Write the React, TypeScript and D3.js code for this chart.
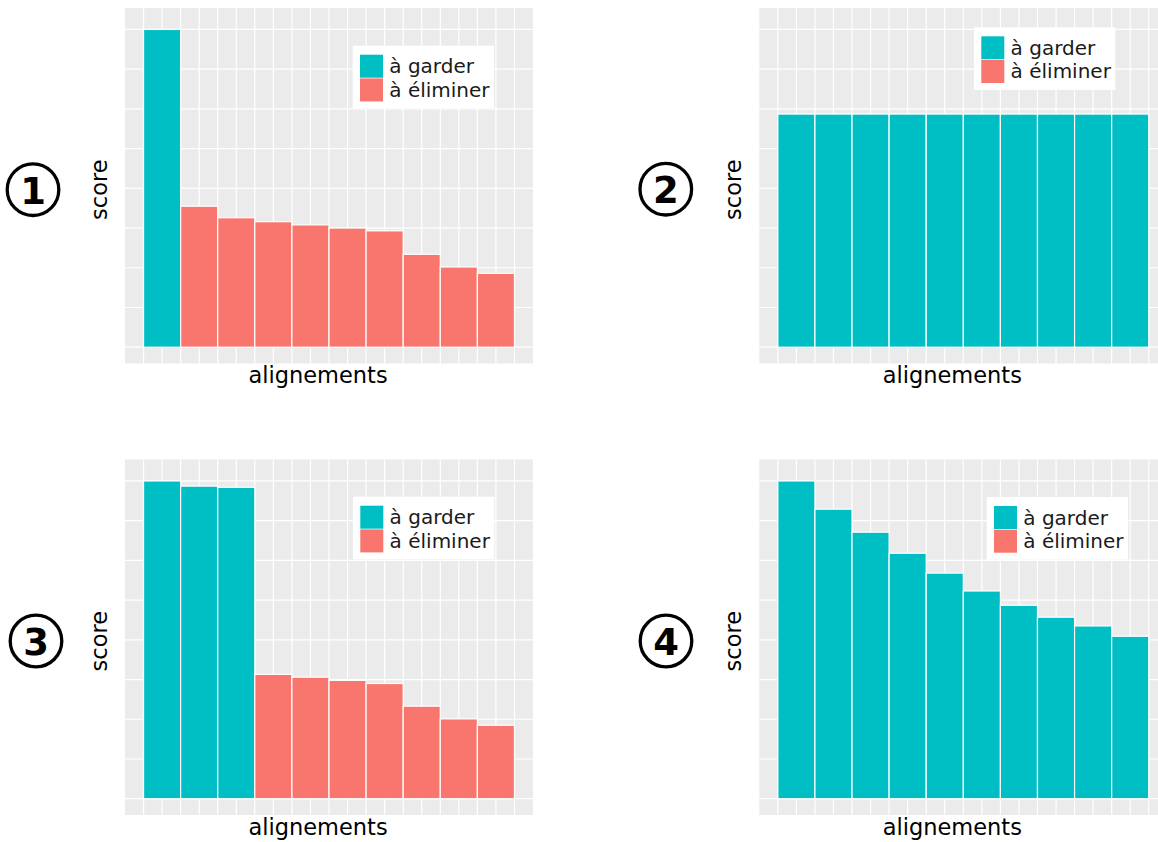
import * as d3 from "d3";
import { useEffect, useRef } from "react";

// alignment index on the x axis
const alignements = [1, 2, 3, 4, 5, 6, 7, 8, 9, 10];

// scores
const scores1 = [8.0, 3.55, 3.26, 3.16, 3.08, 3.0, 2.93, 2.34, 2.02, 1.86];
const scores2 = [5.87, 5.87, 5.87, 5.87, 5.87, 5.87, 5.87, 5.87, 5.87, 5.87];
const scores3 = [8.0, 7.87, 7.84, 3.13, 3.06, 2.98, 2.9, 2.33, 2.01, 1.85];
const scores4 = [8.0, 7.29, 6.71, 6.18, 5.68, 5.23, 4.87, 4.57, 4.35, 4.09];

// how many of the top alignments are kept in each panel
const kept = [1, 10, 3, 10];

const panelNumbers = ["1", "2", "3", "4"];
const legendLabels = ["à garder", "à éliminer"];
const colors = ["#00BFC4", "#F8766D"];
const yGrid = [0, 1, 2, 3, 4, 5, 6, 7, 8];
const xGrid = [0.5, 1, 1.5, 2, 2.5, 3, 3.5, 4, 4.5, 5, 5.5, 6, 6.5, 7, 7.5, 8, 8.5, 9, 9.5, 10, 10.5];

export default function App() {
  const ref = useRef<SVGSVGElement>(null);

  useEffect(() => {
    if (!ref.current) return;
    const svg = d3.select(ref.current);
    svg.selectAll("*").remove();

    const font = "DejaVu Sans, sans-serif";
    const panelW = 408;
    const panelH = 355.5;
    const allScores = [scores1, scores2, scores3, scores4];

    const layout = [
      { px: 125, py: 8, lx: 227.7, ly: 37.7, cx: 33, cy: 189.7 },
      { px: 759.3, py: 8, lx: 214.7, ly: 19.3, cx: 665.8, cy: 189.2 },
      { px: 125, py: 459.5, lx: 228, ly: 37.2, cx: 36, cy: 641 },
      { px: 759.3, py: 459.5, lx: 227.4, ly: 37.5, cx: 666, cy: 641 },
    ];

    layout.forEach((L, p) => {
      const x = d3.scaleLinear().domain([0, 11]).range([L.px, L.px + panelW]);
      const y = d3.scaleLinear().domain([-0.41, 8.54]).range([L.py + panelH, L.py]);
      const g = svg.append("g");

      // panel background + grid
      g.append("rect")
        .attr("x", L.px)
        .attr("y", L.py)
        .attr("width", panelW)
        .attr("height", panelH)
        .attr("fill", "#EBEBEB");

      g.selectAll(".hg")
        .data(yGrid)
        .enter()
        .append("line")
        .attr("x1", L.px)
        .attr("x2", L.px + panelW)
        .attr("y1", d => y(d))
        .attr("y2", d => y(d))
        .attr("stroke", "#fff")
        .attr("stroke-width", 1.2);

      g.selectAll(".vg")
        .data(xGrid)
        .enter()
        .append("line")
        .attr("x1", d => x(d))
        .attr("x2", d => x(d))
        .attr("y1", L.py)
        .attr("y2", L.py + panelH)
        .attr("stroke", "#fff")
        .attr("stroke-width", 1.2);

      // bars
      const scores = allScores[p];
      g.selectAll(".bar")
        .data(alignements)
        .enter()
        .append("rect")
        .attr("x", d => x(d - 0.5))
        .attr("width", d => x(d + 0.5) - x(d - 0.5))
        .attr("y", (d, i) => y(scores[i]))
        .attr("height", (d, i) => y(0) - y(scores[i]))
        .attr("fill", (d, i) => (i < kept[p] ? colors[0] : colors[1]))
        .attr("stroke", "#fff")
        .attr("stroke-width", 1.2);

      // axis titles
      g.append("text")
        .attr("transform", `translate(${L.px - 18.3},${L.py + 181.7}) rotate(-90)`)
        .attr("text-anchor", "middle")
        .attr("font-family", font)
        .attr("font-size", 22.5)
        .attr("fill", "#000")
        .text("score");

      g.append("text")
        .attr("x", L.px + 193)
        .attr("y", L.py + 375)
        .attr("text-anchor", "middle")
        .attr("font-family", font)
        .attr("font-size", 22.5)
        .attr("fill", "#000")
        .text("alignements");

      // legend
      const lg = g.append("g").attr("transform", `translate(${L.px + L.lx},${L.py + L.ly})`);
      lg.append("rect").attr("width", 141.3).attr("height", 62.6).attr("fill", "#fff");
      legendLabels.forEach((lab, i) => {
        lg.append("rect")
          .attr("x", 7.3)
          .attr("y", 9 + i * 23.7)
          .attr("width", 23)
          .attr("height", 23)
          .attr("fill", colors[i]);
        lg.append("text")
          .attr("x", 36.6)
          .attr("y", 9 + i * 23.7 + 18.5)
          .attr("font-family", font)
          .attr("font-size", 20)
          .attr("fill", "#1a1a1a")
          .text(lab);
      });

      // circled panel number
      svg.append("circle")
        .attr("cx", L.cx)
        .attr("cy", L.cy)
        .attr("r", 25.8)
        .attr("fill", "none")
        .attr("stroke", "#000")
        .attr("stroke-width", 3.3);
      svg.append("text")
        .attr("x", L.cx)
        .attr("y", L.cy + 14)
        .attr("text-anchor", "middle")
        .attr("font-family", font)
        .attr("font-weight", "bold")
        .attr("font-size", 37)
        .attr("fill", "#000")
        .text(panelNumbers[p]);
    });
  }, []);

  return (
    <svg
      ref={ref}
      width={1158}
      height={842}
      style={{ position: "absolute", left: 0, top: 0, background: "#fff" }}
    />
  );
}
